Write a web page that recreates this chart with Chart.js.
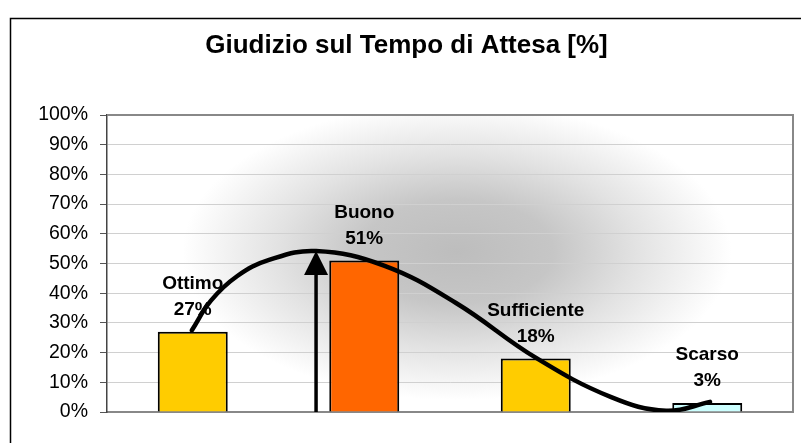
<!DOCTYPE html>
<html>
<head>
<meta charset="utf-8">
<script src="https://cdn.jsdelivr.net/npm/chart.js@4.4.0/dist/chart.umd.min.js"></script>
<style>
html, body { margin: 0; padding: 0; background: #fff; }
</style>
</head>
<body>
<canvas id="Chart" width="801" height="443"></canvas>
<script>
// dati
const categories = ['Ottimo', 'Buono', 'Sufficiente', 'Scarso'];
const values = [27, 51, 18, 3];
const barColors = ['#FFCC00', '#FF6600', '#FFCC00', '#CCFFFF'];
const yTickLabels = ['0%', '10%', '20%', '30%', '40%', '50%', '60%', '70%', '80%', '90%', '100%'];

// curva disegnata a mano (x in unita' di categoria: 0 = Ottimo ... 3 = Scarso)
const curveX = [-0.005, 0.106, 0.26, 0.445, 0.719, 1.115, 1.535, 2.002, 2.44, 2.76, 3.016];
const curveY = [27.5, 37.5, 45.8, 51.2, 54.2, 49.3, 36.7, 18.2, 5.0, 0.4, 3.4];

// freccia verticale sotto il picco della curva
const arrowX = 0.719;
const arrowTop = 54.2;

const FONT = "'Liberation Sans', Arial, Helvetica, sans-serif";

// sfondo sfumato + cornice esterna
const backgroundPlugin = {
	id: 'sfondo',
	beforeDraw(chart) {
		const ctx = chart.ctx;
		const a = chart.chartArea;
		ctx.save();
		ctx.strokeStyle = '#000';
		ctx.lineWidth = 1.5;
		ctx.strokeRect(10.5, 18.5, 1000, 600);

		const cx = a.left + 0.51 * (a.right - a.left);
		const cy = a.top + 0.46 * (a.bottom - a.top);
		const rx = 0.4 * (a.right - a.left);
		const ry = 0.5 * (a.bottom - a.top);
		ctx.beginPath();
		ctx.rect(a.left, a.top, a.right - a.left, a.bottom - a.top);
		ctx.clip();
		ctx.translate(cx, cy);
		ctx.scale(1, ry / rx);
		const g = ctx.createRadialGradient(0, 0, 0, 0, 0, rx);
		g.addColorStop(0, '#bdbdbd');
		g.addColorStop(0.35, '#c6c6c6');
		g.addColorStop(0.65, '#e2e2e2');
		g.addColorStop(1, '#ffffff');
		ctx.fillStyle = g;
		ctx.fillRect(-rx * 3, -rx * 3, rx * 6, rx * 6);
		ctx.restore();
	}
};

// etichette sopra le barre + bordo area del grafico
const labelPlugin = {
	id: 'etichette',
	beforeDatasetsDraw(chart) {
		const ctx = chart.ctx;
		const a = chart.chartArea;
		ctx.save();
		ctx.strokeStyle = '#888';
		ctx.lineWidth = 2;
		ctx.beginPath();
		ctx.moveTo(a.left, a.top);
		ctx.lineTo(a.right, a.top);
		ctx.lineTo(a.right, a.bottom);
		ctx.stroke();

		const meta = chart.getDatasetMeta(1);
		ctx.fillStyle = '#000';
		ctx.font = 'bold 19px ' + FONT;
		ctx.textAlign = 'center';
		ctx.textBaseline = 'alphabetic';
		meta.data.forEach((bar, i) => {
			ctx.fillText(categories[i], bar.x, bar.y - 43);
			ctx.fillText(values[i] + '%', bar.x, bar.y - 17);
		});
		ctx.restore();
	}
};

// freccia
const arrowPlugin = {
	id: 'freccia',
	afterDatasetsDraw(chart) {
		const ctx = chart.ctx;
		const xs = chart.scales.x2;
		const ys = chart.scales.y;
		const x = xs.getPixelForValue(arrowX);
		const y0 = ys.getPixelForValue(0);
		const y1 = ys.getPixelForValue(arrowTop);
		ctx.save();
		ctx.strokeStyle = '#000';
		ctx.fillStyle = '#000';
		ctx.lineWidth = 3.5;
		ctx.beginPath();
		ctx.moveTo(x, y0);
		ctx.lineTo(x, y1 + 20);
		ctx.stroke();
		ctx.beginPath();
		ctx.moveTo(x, y1);
		ctx.lineTo(x - 12, y1 + 24);
		ctx.lineTo(x + 12, y1 + 24);
		ctx.closePath();
		ctx.fill();
		ctx.restore();
	}
};

let lineCtx = document.getElementById('Chart');
let config = {
	type: 'bar',
	data: {
		labels: categories,
		datasets: [{
			type: 'line',
			data: curveX.map((x, i) => ({ x: x, y: curveY[i] })),
			xAxisID: 'x2',
			yAxisID: 'y',
			borderColor: '#000',
			borderWidth: 4.5,
			borderCapStyle: 'round',
			pointRadius: 0,
			tension: 0.4,
			order: 0,
		}, {
			data: values,
			xAxisID: 'x',
			yAxisID: 'y',
			backgroundColor: barColors,
			borderColor: '#000',
			borderWidth: 2,
			barPercentage: 0.408,
			categoryPercentage: 1,
			grouped: false,
			order: 1,
		}],
	},
	options: {
		responsive: false,
		animation: false,
		events: [],
		layout: { padding: { left: 20, right: 8, top: 0, bottom: 31 } },
		plugins: {
			legend: { display: false },
			tooltip: { enabled: false },
			title: {
				display: true,
				text: 'Giudizio sul Tempo di Attesa [%]',
				color: '#000',
				font: { family: FONT, size: 26, weight: 'bold' },
				padding: { top: 30, bottom: 53.8 },
			},
		},
		scales: {
			x: {
				grid: { display: false, drawTicks: false },
				ticks: { display: false },
				border: { color: '#888', width: 2 },
			},
			x2: {
				type: 'linear',
				display: false,
				offset: false,
				min: -0.5,
				max: 3.5,
			},
			y: {
				min: 0,
				max: 100,
				ticks: {
					stepSize: 10,
					color: '#000',
					padding: 12,
					font: { family: FONT, size: 19.5 },
					callback: (v, i) => yTickLabels[i],
				},
				grid: { color: '#d0d0d0', tickColor: '#555', tickLength: 7 },
				border: { color: '#444', width: 1.5 },
				afterFit: (s) => { s.width = 87; },
			},
		},
	},
	plugins: [backgroundPlugin, labelPlugin, arrowPlugin],
};
let chart = new Chart(lineCtx, config);
</script>
</body>
</html>
